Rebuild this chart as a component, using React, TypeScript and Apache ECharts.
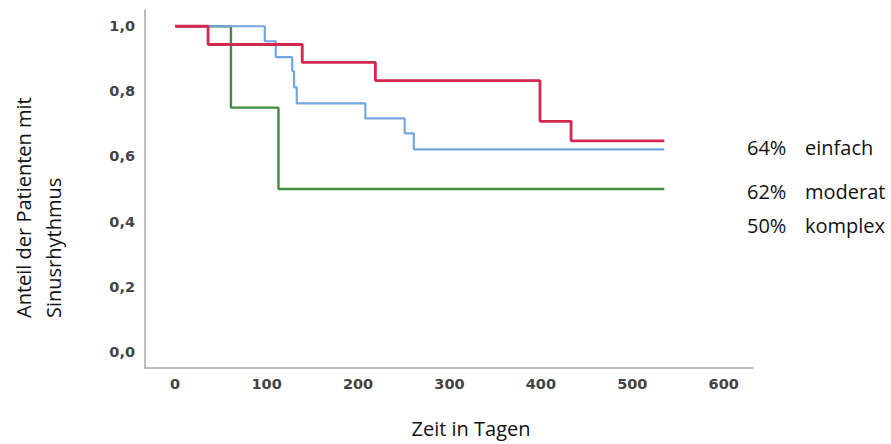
import React, { useEffect, useRef } from "react";
import * as echarts from "echarts";

// Kaplan-Meier step data (days, proportion in sinus rhythm)
const einfachDays = [0, 36, 139, 219, 399, 433, 535];
const einfachSurv = [1, 0.944, 0.889, 0.833, 0.708, 0.648, 0.648];

const moderatDays = [0, 98, 110, 128, 130, 133, 208, 251, 261, 535];
const moderatSurv = [1, 0.954, 0.905, 0.862, 0.812, 0.763, 0.717, 0.671, 0.622, 0.622];

const komplexDays = [0, 61, 113, 535];
const komplexSurv = [1, 0.75, 0.5, 0.5];

const xTicks = [0, 100, 200, 300, 400, 500, 600];
const yTicks = [0, 0.2, 0.4, 0.6, 0.8, 1.0];

const groupNames = ["einfach", "moderat", "komplex"];
const endLabels = ["64%", "62%", "50%"];
const groupColors = ["#d3294f", "#74a6e0", "#3e8d3e"];

const yName1 = "Anteil der Patienten mit";
const yName2 = "Sinusrhythmus";
const xName = "Zeit in Tagen";

const zip = (xs: number[], ys: number[]) => xs.map((x, i) => [x, ys[i]]);

export default function App() {
  const ref = useRef<HTMLDivElement>(null);
  useEffect(() => {
    if (!ref.current) return;
    const chart = echarts.init(ref.current, null, { renderer: "svg" });
    const textFont = "20px 'Open Sans', sans-serif";
    const labelY = [147, 191, 225];
    const series = [
      { d: einfachDays, s: einfachSurv, w: 2.8 },
      { d: moderatDays, s: moderatSurv, w: 2.2 },
      { d: komplexDays, s: komplexSurv, w: 2.4 },
    ].map((g, i) => ({
      type: "line",
      name: groupNames[i],
      step: "end",
      data: zip(g.d, g.s),
      showSymbol: false,
      symbol: "none",
      lineStyle: { color: groupColors[i], width: g.w },
      itemStyle: { color: groupColors[i] },
      z: 3 - i,
    }));
    const graphics: any[] = [
      {
        type: "text",
        x: 23,
        y: 318,
        rotation: Math.PI / 2,
        style: { text: yName1, font: textFont, fill: "#111", align: "left", verticalAlign: "middle" },
      },
      {
        type: "text",
        x: 53,
        y: 318,
        rotation: Math.PI / 2,
        style: { text: yName2, font: textFont, fill: "#111", align: "left", verticalAlign: "middle" },
      },
      {
        type: "text",
        x: 471,
        y: 428,
        style: { text: xName, font: textFont, fill: "#111", align: "center", verticalAlign: "middle" },
      },
    ];
    groupNames.forEach((n, i) => {
      graphics.push({
        type: "text",
        x: 747,
        y: labelY[i],
        style: { text: endLabels[i], font: textFont, fill: "#111", align: "left", verticalAlign: "middle" },
      });
      graphics.push({
        type: "text",
        x: 805,
        y: labelY[i],
        style: { text: n, font: textFont, fill: "#111", align: "left", verticalAlign: "middle" },
      });
    });
    const labelStyle = {
      color: "#444",
      fontWeight: "bold",
      fontSize: 14.5,
      fontFamily: "'DejaVu Sans', Verdana, sans-serif",
    };
    chart.setOption({
      animation: false,
      grid: { left: 145, right: 138, top: 10, bottom: 76 },
      xAxis: {
        type: "value",
        min: -33,
        max: 632,
        axisLine: { show: true, onZero: false, lineStyle: { color: "#aaaaaa", width: 1.5 } },
        axisTick: { show: false },
        splitLine: { show: false },
        axisLabel: { ...labelStyle, customValues: xTicks, margin: 8 },
      },
      yAxis: {
        type: "value",
        min: -0.05,
        max: 1.05,
        axisLine: { show: true, onZero: false, lineStyle: { color: "#aaaaaa", width: 1.5 } },
        axisTick: { show: false },
        splitLine: { show: false },
        axisLabel: {
          ...labelStyle,
          customValues: yTicks,
          margin: 10,
          formatter: (v: number) => v.toFixed(1).replace(".", ","),
        },
      },
      series,
      graphic: graphics,
    });
    return () => chart.dispose();
  }, []);
  return (
    <div
      ref={ref}
      style={{ position: "fixed", left: 0, top: 0, width: 891, height: 444, background: "#fff" }}
    />
  );
}
